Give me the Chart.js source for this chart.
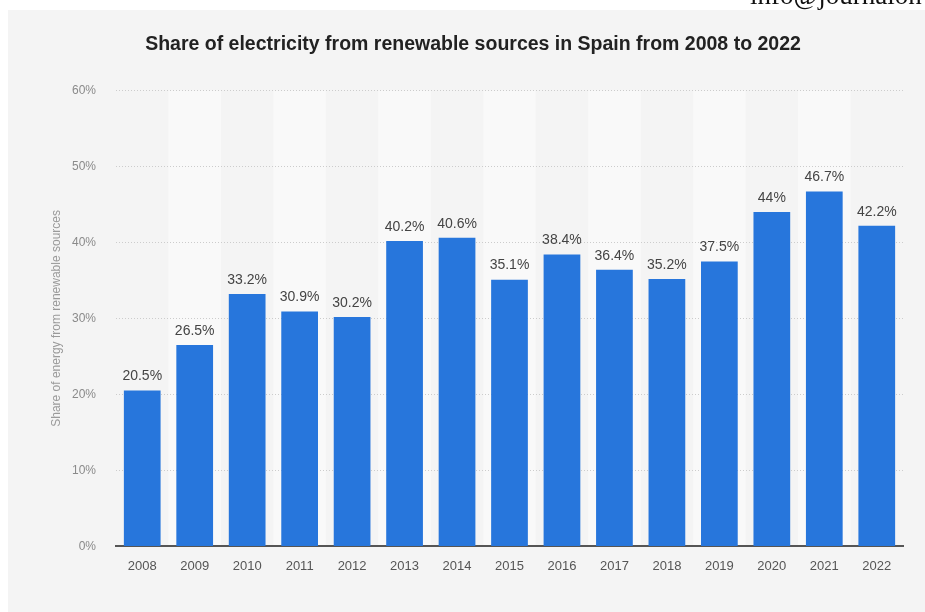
<!DOCTYPE html>
<html>
<head>
<meta charset="utf-8">
<script src="https://cdn.jsdelivr.net/npm/chart.js@4.4.1/dist/chart.umd.min.js"></script>
<style>
  html, body { margin: 0; padding: 0; background: #ffffff; width: 925px; height: 612px; overflow: hidden; position: relative; }
  #panel { position: absolute; left: 8px; top: 10px; width: 917px; height: 602px; background: #f4f4f4; }
  #mark { position: absolute; left: 750px; top: -20px; font-family: "Liberation Serif", "DejaVu Serif", serif; font-size: 27px; color: #111; white-space: nowrap; }
</style>
</head>
<body>
<div id="panel"><canvas id="chart" width="917" height="602"></canvas></div>
<div id="mark">info@journalon</div>
<script>
  const years = ["2008", "2009", "2010", "2011", "2012", "2013", "2014", "2015",
                 "2016", "2017", "2018", "2019", "2020", "2021", "2022"];
  const shares = [20.5, 26.5, 33.2, 30.9, 30.2, 40.2, 40.6, 35.1,
                  38.4, 36.4, 35.2, 37.5, 44, 46.7, 42.2];
  const yTicks = [0, 10, 20, 30, 40, 50, 60];

  // alternate light column bands behind the bars
  const bandPlugin = {
    id: "bands",
    beforeDraw(chart) {
      const { ctx, chartArea, scales } = chart;
      const x = scales.x;
      const half = (x.getPixelForValue(1) - x.getPixelForValue(0)) / 2;
      ctx.save();
      ctx.fillStyle = "#f9f9f9";
      for (let i = 1; i < years.length; i += 2) {
        const cx = x.getPixelForValue(i);
        ctx.fillRect(cx - half, chartArea.top, half * 2, chartArea.bottom - chartArea.top);
      }
      ctx.restore();
    }
  };

  // value labels above each bar
  const labelPlugin = {
    id: "valueLabels",
    afterDatasetsDraw(chart) {
      const { ctx } = chart;
      const meta = chart.getDatasetMeta(0);
      ctx.save();
      ctx.font = "14px 'Liberation Sans', Arial, sans-serif";
      ctx.fillStyle = "#444444";
      ctx.textAlign = "center";
      ctx.textBaseline = "bottom";
      meta.data.forEach((bar, i) => {
        ctx.fillText(shares[i] + "%", bar.x, bar.y - 7);
      });
      ctx.restore();
    }
  };

  new Chart(document.getElementById("chart").getContext("2d"), {
    type: "bar",
    data: {
      labels: years,
      datasets: [{
        data: shares,
        backgroundColor: "#2776dc",
        borderWidth: 0,
        categoryPercentage: 0.7,
        barPercentage: 1
      }]
    },
    options: {
      responsive: false,
      animation: false,
      layout: { padding: { left: 35, right: 22, top: 19, bottom: 34 } },
      plugins: {
        legend: { display: false },
        tooltip: { enabled: false },
        title: {
          display: true,
          text: "Share of electricity from renewable sources in Spain from 2008 to 2022",
          color: "#222222",
          font: { family: "'Liberation Sans', Arial, sans-serif", size: 19.5, weight: "bold" },
          padding: { top: 4, bottom: 34 }
        }
      },
      scales: {
        x: {
          grid: { display: false },
          border: { display: true, color: "#555555", width: 2 },
          ticks: {
            color: "#555555",
            padding: 4,
            font: { family: "'Liberation Sans', Arial, sans-serif", size: 13 }
          }
        },
        y: {
          min: 0,
          max: 60,
          afterBuildTicks(scale) {
            scale.ticks = yTicks.map(v => ({ value: v }));
          },
          afterFit(scale) { scale.width = 73; },
          grid: { color: "#cccccc", lineWidth: 1, drawTicks: false },
          border: { display: false, dash: [1, 2] },
          ticks: {
            color: "#8a8a8a",
            padding: 20,
            font: { family: "'Liberation Sans', Arial, sans-serif", size: 12 },
            callback: v => v + "%"
          },
          title: {
            display: true,
            text: "Share of energy from renewable sources",
            color: "#9a9a9a",
            padding: { top: 6, bottom: 4 },
            font: { family: "'Liberation Sans', Arial, sans-serif", size: 12 }
          }
        }
      }
    },
    plugins: [bandPlugin, labelPlugin]
  });
</script>
</body>
</html>
